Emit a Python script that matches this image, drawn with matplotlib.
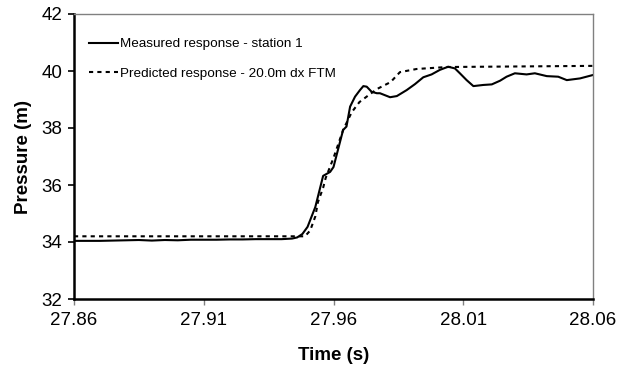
import matplotlib
matplotlib.use("Agg")
import matplotlib.pyplot as plt

plt.rcParams['font.family'] = ['Liberation Sans', 'DejaVu Sans']

# Measured response - station 1
meas_t = [27.860, 27.870, 27.875, 27.880, 27.885, 27.890, 27.895, 27.900, 27.905,
          27.910, 27.915, 27.920, 27.925, 27.930, 27.935, 27.940, 27.944, 27.946,
          27.948, 27.950, 27.953, 27.956, 27.9587, 27.960, 27.9637, 27.9650,
          27.9664, 27.9683, 27.9702, 27.9715, 27.9728, 27.9747, 27.9767, 27.9779,
          27.9818, 27.9844, 27.9882, 27.9914, 27.9946, 27.9978, 28.0010, 28.0042,
          28.0068, 28.0087, 28.0113, 28.0139, 28.0177, 28.0210, 28.0242, 28.0267,
          28.0299, 28.0344, 28.0376, 28.0422, 28.0466, 28.0499, 28.0550, 28.0600]
meas_p = [34.04, 34.04, 34.05, 34.06, 34.07, 34.05, 34.07, 34.06, 34.08,
          34.08, 34.08, 34.09, 34.09, 34.10, 34.10, 34.10, 34.12, 34.16,
          34.28, 34.53, 35.23, 36.32, 36.46, 36.63, 37.93, 38.05,
          38.75, 39.10, 39.33, 39.47, 39.45, 39.27, 39.22, 39.22,
          39.08, 39.12, 39.33, 39.54, 39.78, 39.88, 40.04, 40.15,
          40.09, 39.92, 39.68, 39.47, 39.51, 39.53, 39.66, 39.80,
          39.92, 39.88, 39.92, 39.82, 39.80, 39.68, 39.74, 39.86]

# Predicted response - 20.0m dx FTM
pred_t = [27.860, 27.949, 27.951, 27.953, 27.954, 27.956, 27.957, 27.960, 27.9637,
          27.967, 27.970, 27.9735, 27.9768, 27.982, 27.9856, 27.992, 28.0037, 28.060]
pred_p = [34.20, 34.20, 34.40, 34.90, 35.40, 35.90, 36.25, 36.95, 37.93,
          38.55, 38.91, 39.15, 39.37, 39.61, 39.96, 40.07, 40.14, 40.18]

x_ticks = [27.86, 27.91, 27.96, 28.01, 28.06]
y_ticks = [32, 34, 36, 38, 40, 42]

fig = plt.figure(figsize=(6.18, 3.72), dpi=100)
ax = fig.add_axes([74/618, 1-299/372, (593-74)/618, (299-14)/372])

ax.plot(meas_t, meas_p, color='black', lw=1.5, label='Measured response - station 1')
ax.plot(pred_t, pred_p, color='black', lw=1.5, linestyle=(0, (2, 2)),
        label='Predicted response - 20.0m dx FTM')

ax.set_xlim(27.86, 28.06)
ax.set_ylim(32, 42)
ax.set_xticks(x_ticks)
ax.set_xticklabels([f"{v:.2f}" for v in x_ticks])
ax.set_yticks(y_ticks)
ax.tick_params(axis='both', labelsize=13.5, direction='out', length=4.5, width=1,
               color='#808080', pad=5)
ax.tick_params(axis='y', color='black', width=1.2, pad=4)

for s in ['top', 'right']:
    ax.spines[s].set_color('#808080')
    ax.spines[s].set_linewidth(1.0)
for s in ['bottom', 'left']:
    ax.spines[s].set_color('black')
    ax.spines[s].set_linewidth(1.8)

ax.set_xlabel('Time (s)', fontsize=13.5, fontweight='bold', labelpad=6)
ax.set_ylabel('Pressure (m)', fontsize=13.5, fontweight='bold', labelpad=6)
ax.xaxis.set_label_coords(0.5, -0.2, transform=ax.transAxes)
ax.yaxis.set_label_coords((24-74)/519, 0.5, transform=ax.transAxes)
ax.xaxis.label.set_va('center')
ax.yaxis.label.set_va('center')

ax.legend(loc='upper left', bbox_to_anchor=(0.018, 0.935), frameon=False,
          fontsize=9.7, handlelength=2.2, handletextpad=0.1, labelspacing=1.25,
          borderaxespad=0)

fig.savefig('out.png', dpi=100)
